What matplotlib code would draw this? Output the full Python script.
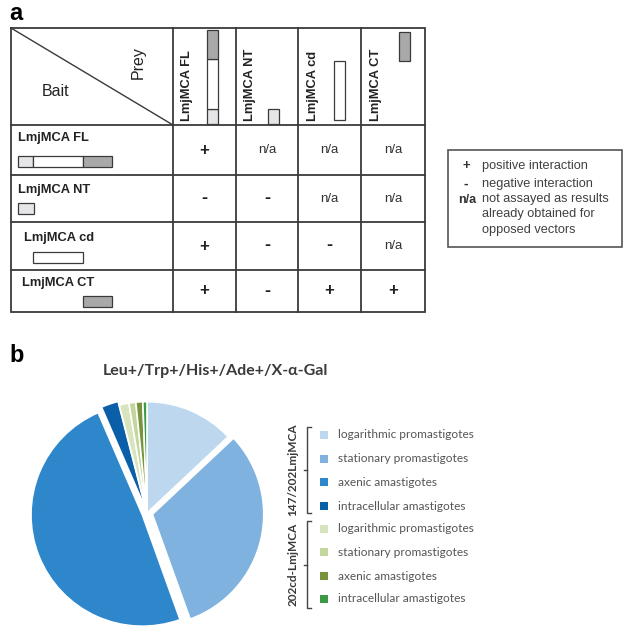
import matplotlib
matplotlib.use("Agg")
import matplotlib.pyplot as plt
from matplotlib.patches import Rectangle

W, H = 627, 632

# ---------------- panel a: yeast two-hybrid matrix ----------------
constructs = ["LmjMCA FL", "LmjMCA NT", "LmjMCA cd", "LmjMCA CT"]
interactions = [
    ["+", "n/a", "n/a", "n/a"],
    ["-", "-", "n/a", "n/a"],
    ["+", "-", "-", "n/a"],
    ["+", "-", "+", "+"],
]
# domain extents along the full-length protein (arbitrary units)
domains = {"NT": (0, 15), "cd": (15, 65), "CT": (65, 94)}
construct_domains = {
    "LmjMCA FL": ["NT", "cd", "CT"],
    "LmjMCA NT": ["NT"],
    "LmjMCA cd": ["cd"],
    "LmjMCA CT": ["CT"],
}
domain_color = {"NT": "#e6e6e8", "cd": "#ffffff", "CT": "#a9a9a9"}
legend_symbols = ["+", "-", "n/a"]
legend_text = ["positive interaction", "negative interaction",
               "not assayed as results\nalready obtained for\nopposed vectors"]

# ---------------- panel b: pie ----------------
stages = ["logarithmic promastigotes", "stationary promastigotes",
          "axenic amastigotes", "intracellular amastigotes"]
groups = ["147/202LmjMCA", "202cd-LmjMCA"]
shares_147 = [13.0, 31.5, 49.0, 2.5]
shares_202cd = [1.4, 1.0, 1.0, 0.6]
colors_147 = ["#bdd7ee", "#7fb2de", "#2f87cb", "#0b5ea8"]
colors_202cd = ["#d7e4bd", "#c3d69b", "#77933c", "#3c9a46"]
pie_title = "Leu+/Trp+/His+/Ade+/X-\u03b1-Gal"

ARIAL = "Liberation Sans"
SANS = ["Lato", "DejaVu Sans"]
LINE = "#3a3a3a"

fig = plt.figure(figsize=(W / 100, H / 100), dpi=100)
fig.patch.set_facecolor("white")
ax = fig.add_axes([0, 0, 1, 1])
ax.set_xlim(0, W)
ax.set_ylim(H, 0)
ax.axis("off")

# panel letters
ax.text(9, 14, "a", fontsize=17, fontweight="bold", family=ARIAL, va="center", ha="left")
ax.text(9, 356, "b", fontsize=17, fontweight="bold", family=ARIAL, va="center", ha="left")

# table grid
x_left, x_right = 11, 425
col_x = [173, 236, 298, 361, 425]
y_top, y_head = 28, 125
row_y = [125, 175, 222, 270, 312]
lw = 1.3
ax.plot([x_left, x_right, x_right, x_left, x_left], [y_top, y_top, row_y[-1], row_y[-1], y_top],
        color=LINE, lw=lw, solid_joinstyle="miter")
for xc in col_x[:-1]:
    ax.plot([xc, xc], [y_top, row_y[-1]], color=LINE, lw=lw)
for yr in row_y[:-1]:
    ax.plot([x_left, x_right], [yr, yr], color=LINE, lw=lw)
ax.plot([x_left, col_x[0]], [y_top, y_head], color=LINE, lw=1.0)
ax.text(42, 92, "Bait", fontsize=11.5, family=ARIAL, va="center", ha="left", color="#222222")
ax.text(138, 63, "Prey", fontsize=11.5, family=ARIAL, va="center", ha="center",
        rotation=90, color="#222222")

# column headers and vertical schematics
col_label_x = [187, 250, 313, 376]
col_bar_x = [212, 273, 339, 404]
col_bar_base = [124, 124, 120, 124]
col_bar_top = [None, None, 61, 32]
for j, name in enumerate(constructs):
    ax.text(col_label_x[j], 121, name, fontsize=9.3, fontweight="bold", family=ARIAL,
            rotation=90, va="bottom", ha="center", color="#222222")
    parts = construct_domains[name]
    start0 = domains[parts[0]][0]
    for d in parts:
        a, b = domains[d]
        # vertical: NT at the bottom, CT at the top
        y1 = col_bar_base[j] - (a - start0)
        y0 = col_bar_base[j] - (b - start0)
        if col_bar_top[j] is not None:
            y0 = col_bar_top[j]
            y1 = y0 + (b - a) if name == "LmjMCA CT" else col_bar_base[j]
        ax.add_patch(Rectangle((col_bar_x[j] - 5.5, y0), 11, y1 - y0,
                               facecolor=domain_color[d], edgecolor=LINE, lw=0.9))

# row labels and horizontal schematics
row_label_pos = [(18, 138), (18, 190), (24, 238), (22, 283)]
row_bar_y = [156, 203, 252, 296]
for i, name in enumerate(constructs):
    lx, ly = row_label_pos[i]
    ax.text(lx, ly, name, fontsize=9.3, fontweight="bold", family=ARIAL,
            va="center", ha="left", color="#222222")
    for d in construct_domains[name]:
        a, b = domains[d]
        x0 = 18 + a
        if name == "LmjMCA NT":
            b = a + 16
        ax.add_patch(Rectangle((x0, row_bar_y[i]), b - a, 11,
                               facecolor=domain_color[d], edgecolor=LINE, lw=0.9))

# interaction results
for i, row in enumerate(interactions):
    yc = (row_y[i] + row_y[i + 1]) / 2
    for j, val in enumerate(row):
        xc = (col_x[j] + col_x[j + 1]) / 2
        if val == "n/a":
            ax.text(xc, yc, val, fontsize=9.5, family=ARIAL, va="center", ha="center",
                    color="#333333")
        else:
            ax.text(xc, yc, val, fontsize=13 if val == "-" else 12, fontweight="bold",
                    family=ARIAL, va="center", ha="center", color="#222222")

# key box
ax.add_patch(Rectangle((448, 150), 174, 97, facecolor="white", edgecolor="#555555", lw=1.2))
key_y = [166, 184]
ax.text(466, key_y[0], legend_symbols[0], fontsize=9.5, fontweight="bold", family=ARIAL,
        va="center", ha="center", color="#333333")
ax.text(466, key_y[1], legend_symbols[1], fontsize=10, fontweight="bold", family=ARIAL,
        va="center", ha="center", color="#333333")
ax.text(467, 200, legend_symbols[2], fontsize=9, fontweight="bold", family=ARIAL,
        va="center", ha="center", color="#333333")
ax.text(482, key_y[0], legend_text[0], fontsize=9.2, family=ARIAL, va="center", ha="left",
        color="#404040")
ax.text(482, key_y[1], legend_text[1], fontsize=9.2, family=ARIAL, va="center", ha="left",
        color="#404040")
ax.text(482, 193, legend_text[2], fontsize=9.2, family=ARIAL, va="top", ha="left",
        color="#404040", linespacing=1.38)

# ---------------- pie ----------------
ax.text(215, 371, pie_title, fontsize=11.5, fontweight="bold", family=SANS,
        va="center", ha="center", color="#3a3a3a")

cx, cy, r_px = 147, 513, 116
L = 1.2
side = 2 * L * r_px
pax = fig.add_axes([(cx - L * r_px) / W, (H - cy - L * r_px) / H, side / W, side / H])
pax.set_xlim(-L, L)
pax.set_ylim(-L, L)
pax.set_aspect("equal")
pax.axis("off")
values = shares_147 + shares_202cd
colors = colors_147 + colors_202cd
explode = [0.0, 0.05, 0.045, 0.035, 0, 0, 0, 0]
pax.pie(values, colors=colors, startangle=90, counterclock=False, explode=explode,
        radius=1.0, wedgeprops=dict(edgecolor="white", linewidth=1.2))

# grouped legend
leg_y = [435, 459, 482, 506, 529, 552, 576, 599]
leg_colors = colors_147 + colors_202cd
leg_labels = stages + stages
for k, (yy, c, lab) in enumerate(zip(leg_y, leg_colors, leg_labels)):
    ax.add_patch(Rectangle((320, yy - 4), 8, 8, facecolor=c, edgecolor="none"))
    ax.text(338, yy, lab, fontsize=8.6, family=SANS, va="center", ha="left", color="#555555")

brackets = [(427, 513), (521, 608)]
for g, (y0, y1) in enumerate(brackets):
    bx = 307
    ax.plot([bx + 4, bx, bx, bx + 4], [y0, y0, y1, y1], color="#444444", lw=1.0)
    ym = (y0 + y1) / 2
    ax.plot([bx - 3, bx], [ym, ym], color="#444444", lw=1.0)
    ax.text(293, ym, groups[g], fontsize=8.5, fontweight="bold", family=SANS, rotation=90,
            va="center", ha="center", color="#3a3a3a")

fig.savefig("out.png", dpi=100, facecolor="white")
